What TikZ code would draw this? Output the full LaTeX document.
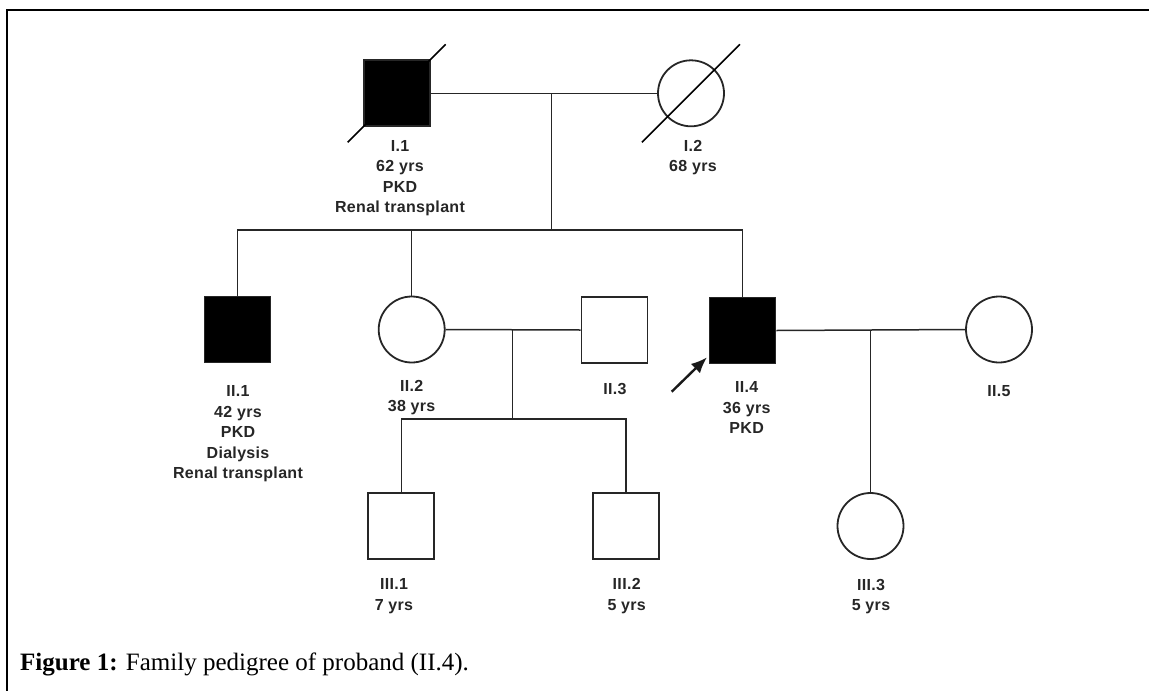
\documentclass[tikz,border=0pt]{standalone}
\usepackage{fontspec}
\setmainfont{Liberation Serif}
\newfontfamily\lblfont[LetterSpace=2]{Liberation Sans}
\usetikzlibrary{arrows.meta}
\begin{document}
\begin{tikzpicture}[x=1pt,y=-1pt,
  sqbox/.style={draw=black!85, line width=1.8pt, rectangle, minimum width=66pt, minimum height=66pt, inner sep=0pt},
  affected/.style={sqbox, fill=black},
  circbox/.style={draw=black!85, line width=1.8pt, circle, minimum size=66pt, inner sep=0pt},
  link/.style={draw=black!85, line width=1.5pt},
  slash/.style={draw=black, line width=1.5pt},
  lbl/.style={anchor=north, inner sep=0pt, align=center, font=\lblfont\bfseries\fontsize{16}{20.5}\selectfont, text=black!85},
  frameline/.style={draw=black, line width=2.2pt}
]
\useasboundingbox (0,0) rectangle (1149,691);
% frame
\coordinate (fr1) at (1149,10);
\coordinate (fr2) at (6.7,10);
\coordinate (fr3) at (6.7,691);
\draw[frameline] (fr1) -- (fr2) -- (fr3);

% generation I
\node[affected] (I1) at (396.7,93.3) {};
\node[circbox] (I2) at (691,93.3) {};
% generation II
\node[affected] (II1) at (237.5,329.5) {};
\node[circbox] (II2) at (411.7,329.5) {};
\node[sqbox] (II3) at (614.5,330) {};
\node[affected] (II4) at (742.5,330.5) {};
\node[circbox] (II5) at (999,329.5) {};
% generation III
\node[sqbox] (III1) at (401.3,526) {};
\node[sqbox] (III2) at (626,526) {};
\node[circbox] (III3) at (870.5,526) {};

% deceased slashes
\draw[slash] ([shift={(-49,49)}]I1.center) -- ([shift={(49,-49)}]I1.center);
\draw[slash] ([shift={(-49,49)}]I2.center) -- ([shift={(49,-49)}]I2.center);

% generation I mating and sibship
\coordinate (mI) at (551.7,93.3);
\coordinate (sI) at (551.7,230);
\draw[link] (I1.east) -- (I2.west);
\draw[link] (mI) -- (sI);
\draw[link] (II1.north) |- (sI) -| (II4.north);
\draw[link] (II2.north) -- (II2.north |- sI);

% II.2 x II.3
\coordinate (mII) at (512.7,329.5);
\coordinate (sII) at (512.7,419);
\draw[link] (II2.east) -- (II3.west);
\draw[link] (mII) -- (sII);
\draw[link] (III1.north) |- (sII) -| (III2.north);

% II.4 x II.5
\draw[link] (II4.east) -- (II5.west);
\draw[link] (III3.north) -- (III3.north |- II5.west);

% proband arrow
\coordinate (arrtail) at (671.7,391.7);
\coordinate (arrtip) at (707,357.3);
\draw[line width=2.4pt, black!90, -{Latex[length=16pt,width=13pt]}] (arrtail) -- (arrtip);

% labels
\node[lbl] (I1L) at (400,140) {I.1\\62 yrs\\PKD\\Renal transplant};
\node[lbl] (I2L) at (693,140) {I.2\\68 yrs};
\node[lbl] (II1L) at (238,385.3) {II.1\\42 yrs\\PKD\\Dialysis\\Renal transplant};
\node[lbl] (II2L) at (411.6,380) {II.2\\38 yrs};
\node[lbl] (II3L) at (615,383.5) {II.3};
\node[lbl] (II4L) at (746.7,381.7) {II.4\\36 yrs\\PKD};
\node[lbl] (II5L) at (999,385) {II.5};
\node[lbl] (III1L) at (394,578.5) {III.1\\7 yrs};
\node[lbl] (III2L) at (626.7,578.5) {III.2\\5 yrs};
\node[lbl] (III3L) at (871,579) {III.3\\5 yrs};

% caption
\node[anchor=base west, inner sep=0pt, font=\fontsize{25}{30}\selectfont] (cap) at (20,670) {\textbf{Figure 1:} Family pedigree of proband (II.4).};
\end{tikzpicture}
\end{document}
